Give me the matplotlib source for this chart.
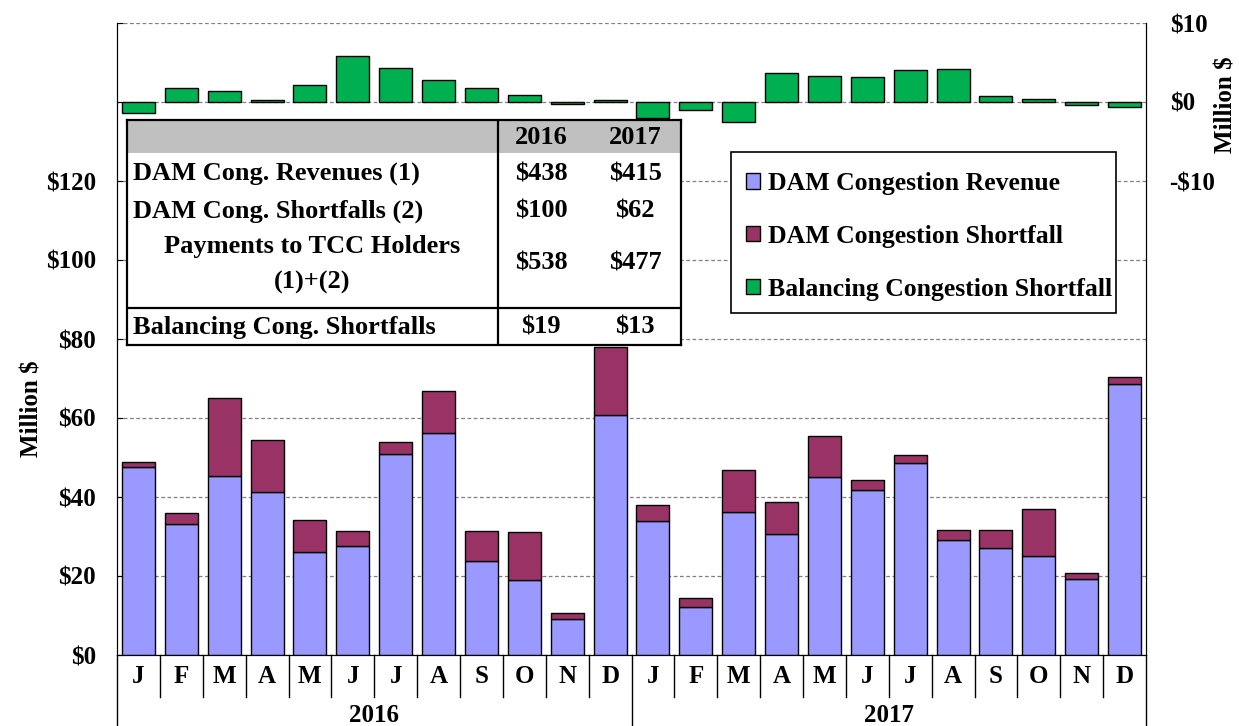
import numpy as np
import matplotlib.pyplot as plt
from matplotlib.patches import Patch, Rectangle

plt.rcParams['font.family'] = ['Liberation Serif', 'DejaVu Serif']
plt.rcParams['font.weight'] = 'bold'
plt.rcParams['axes.labelweight'] = 'bold'

months = ["J", "F", "M", "A", "M", "J", "J", "A", "S", "O", "N", "D"] * 2
years = ["2016", "2017"]

# $ million, left axis
dam_revenue = [47.6, 33.2, 45.3, 41.3, 26.1, 27.6, 50.9, 56.2, 23.8, 19.0, 9.1, 60.8,
               33.9, 12.2, 36.2, 30.6, 45.1, 41.8, 48.6, 29.1, 27.1, 25.1, 19.2, 68.6]
dam_shortfall = [1.3, 2.7, 19.8, 13.1, 8.1, 3.8, 3.0, 10.6, 7.6, 12.1, 1.5, 17.2,
                 4.1, 2.2, 10.6, 8.1, 10.3, 2.5, 2.0, 2.5, 4.5, 11.9, 1.6, 1.8]
# $ million, right axis
bal_shortfall = [-1.4, 1.8, 1.4, 0.2, 2.1, 5.8, 4.3, 2.8, 1.8, 0.85, -0.3, 0.2,
                 -2.0, -1.05, -2.5, 3.7, 3.3, 3.2, 4.0, 4.2, 0.7, 0.4, -0.4, -0.6]

table_rows = ["DAM Cong. Revenues (1)", "DAM Cong. Shortfalls (2)"]
table_2016 = ["$438", "$100", "$538", "$19"]
table_2017 = ["$415", "$62", "$477", "$13"]

c_rev = "#9999FF"
c_short = "#993366"
c_bal = "#00B050"
fs = 18
fs_tab = 19

fig = plt.figure(figsize=(12.39, 7.26), dpi=100)
ax = fig.add_axes([117 / 1239, 71 / 726, 1029 / 1239, 632 / 726])
x = np.arange(len(months))
w = 0.77

ax.bar(x, dam_revenue, w, color=c_rev, edgecolor="black", linewidth=1, zorder=3)
ax.bar(x, dam_shortfall, w, bottom=dam_revenue, color=c_short, edgecolor="black", linewidth=1, zorder=3)

ax.set_xlim(-0.5, 23.5)
ax.set_ylim(0, 160)
ax.set_yticks(np.arange(0, 161, 20))
ax.set_yticklabels([f"${v}" if v <= 120 else "" for v in range(0, 161, 20)], fontsize=fs)
ax.yaxis.grid(True, linestyle=(0, (3, 2)), color="#808080", linewidth=0.9, zorder=0)
ax.set_axisbelow(True)
ax.tick_params(axis="y", direction="in", length=4, pad=15)
ax.set_xticks([])
ax.spines["top"].set_visible(False)
ax.set_ylabel("Million $", fontsize=fs)
ax.yaxis.set_label_coords(-0.071, 0.39)

# month / year labels and separators under the axis
xt = ax.get_xaxis_transform()
for i, m in enumerate(months):
    ax.text(i, -0.034, m, transform=xt, ha="center", va="center", fontsize=fs)
for b in np.arange(-0.5, 24, 1):
    lo = -0.115 if b in (-0.5, 11.5, 23.5) else -0.067
    ax.plot([b, b], [0, lo], transform=xt, color="black", linewidth=1, clip_on=False)
for k, yr in enumerate(years):
    ax.text(5.5 + 12 * k, -0.096, yr, transform=xt, ha="center", va="center", fontsize=fs)

ax2 = ax.twinx()
ax2.bar(x, bal_shortfall, w, color=c_bal, edgecolor="black", linewidth=1, zorder=3)
ax2.set_ylim(-70, 10)
ax2.set_yticks([-10, 0, 10])
ax2.set_yticklabels(["-$10", "$0", "$10"], fontsize=fs)
ax2.tick_params(axis="y", length=0, pad=17)
ax2.spines["top"].set_visible(False)
ax2.set_ylabel("Million $", fontsize=fs)
ax2.yaxis.set_label_coords(1.067, 0.87)

# summary table
tab = fig.add_axes([127 / 1239, 1 - 345 / 726, 554 / 1239, 225 / 726])
tab.set_xlim(0, 554)
tab.set_ylim(225, 0)
tab.set_xticks([])
tab.set_yticks([])
tab.set_facecolor("white")
for s in tab.spines.values():
    s.set_linewidth(1.6)
tab.add_patch(Rectangle((0, 0), 554, 33, facecolor="#C0C0C0", edgecolor="none"))
tab.plot([371, 371], [0, 225], color="black", linewidth=1.6)
tab.plot([0, 554], [188, 188], color="black", linewidth=1.6)
tab.text(414, 17, years[0], ha="center", va="center", fontsize=fs_tab)
tab.text(508, 17, years[1], ha="center", va="center", fontsize=fs_tab)
tab.text(6, 54, table_rows[0], ha="left", va="center", fontsize=fs_tab)
tab.text(6, 91, table_rows[1], ha="left", va="center", fontsize=fs_tab)
tab.text(185, 126, "Payments to TCC Holders", ha="center", va="center", fontsize=fs_tab)
tab.text(185, 162, "(1)+(2)", ha="center", va="center", fontsize=fs_tab)
tab.text(6, 207, "Balancing Cong. Shortfalls", ha="left", va="center", fontsize=fs_tab)
for yy, a, b in zip([54, 91, 143, 207], table_2016, table_2017):
    tab.text(414, yy, a, ha="center", va="center", fontsize=fs_tab)
    tab.text(508, yy, b, ha="center", va="center", fontsize=fs_tab)

# legend box drawn separately so its padding matches the original
fig.patches.append(Rectangle((731 / 1239, 1 - 313 / 726), 385 / 1239, 161 / 726,
                             transform=fig.transFigure, facecolor="white",
                             edgecolor="black", linewidth=1.2, zorder=4))
handles = [Patch(facecolor=c_rev, edgecolor="black", label="DAM Congestion Revenue"),
           Patch(facecolor=c_short, edgecolor="black", label="DAM Congestion Shortfall"),
           Patch(facecolor=c_bal, edgecolor="black", label="Balancing Congestion Shortfall")]
leg = fig.legend(handles=handles, loc="upper left", bbox_to_anchor=(746 / 1239, 1 - 172 / 726),
                 fontsize=18.5, frameon=False,
                 handlelength=0.55, handleheight=0.55, handletextpad=0.3, labelspacing=1.16,
                 borderpad=0, borderaxespad=0)
leg.set_zorder(5)

fig.savefig("out.png", dpi=100)
